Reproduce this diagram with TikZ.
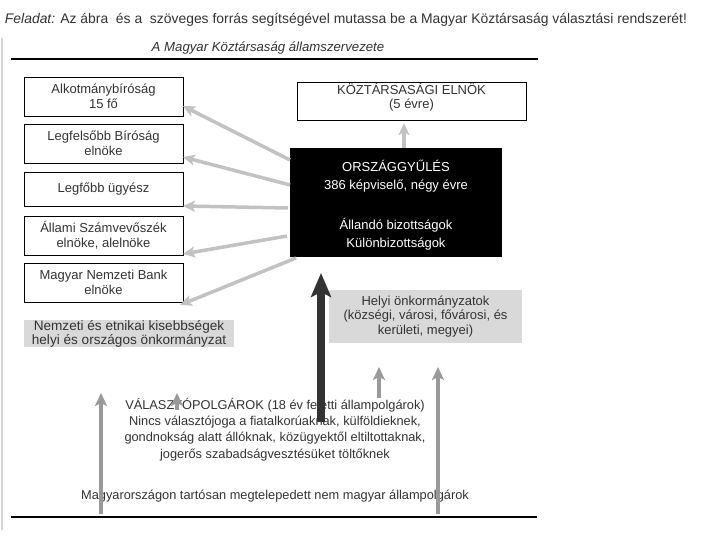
\documentclass[tikz,border=0pt]{standalone}
\usepackage{fontspec}
\setmainfont{Liberation Sans}
\usetikzlibrary{arrows.meta,calc}
\definecolor{txt}{HTML}{333333}
\definecolor{lgray}{HTML}{C2C2C2}
\definecolor{mgray}{HTML}{9A9A9A}
\definecolor{vlgray}{HTML}{D4D4D4}
\definecolor{boxgray}{HTML}{D9D9D9}
\definecolor{dark}{HTML}{333333}
\begin{document}
\begin{tikzpicture}[x=1pt,y=-1pt,
  every node/.style={inner sep=0pt, outer sep=0pt, text=txt, font=\fontsize{13}{15}\selectfont},
  wbox/.style={draw=black, line width=0.9pt, fill=white, minimum width=159pt, align=center},
  gbox/.style={fill=boxgray, align=center},
  larrow/.style={draw=lgray, line width=3.5pt, -{Stealth[length=12pt,width=11pt,inset=3pt]}},
  barrow/.style={draw=mgray, line width=4pt, -{Stealth[length=13pt,width=12pt,inset=3pt]}},
  darrow/.style={draw=dark, line width=8pt, -{Stealth[length=24pt,width=20pt,inset=5pt]}},
  rule/.style={draw=black, line width=2pt},
]
\useasboundingbox[fill=white] (0,0) rectangle (720,540);

% title and heading
\node[anchor=west, font=\fontsize{13.9}{15}\selectfont] (title) at (5,20) {\textit{Feladat:} Az ábra\ \ és a\ \ szöveges forrás segítségével mutassa be a Magyar Köztársaság választási rendszerét!};
\node[font=\itshape\fontsize{13.2}{15}\selectfont] (head) at (268,48) {A Magyar Köztársaság államszervezete};

% rules
\coordinate (vl1) at (2,38); \coordinate (vl2) at (2,530);
\draw[draw=vlgray, line width=2pt] (vl1) -- (vl2);
\coordinate (tl1) at (11,59); \coordinate (tl2) at (538,59);
\draw[rule] (tl1) -- (tl2);
\coordinate (bl1) at (11,517); \coordinate (bl2) at (537,517);
\draw[rule, line width=2.2pt] (bl1) -- (bl2);

% left boxes
\node[wbox, minimum height=39pt] (b1) at (103.5,96.5) {Alkotmánybíróság\\15 fő};
\node[wbox, minimum height=39pt] (b2) at (103.5,143.5) {Legfelsőbb Bíróság\\elnöke};
\node[wbox, minimum height=34pt] (b3) at (103.5,189) {Legfőbb ügyész};
\node[wbox, minimum height=39pt] (b4) at (103.5,235.5) {Állami Számvevőszék\\elnöke, alelnöke};
\node[wbox, minimum height=39pt] (b5) at (103.5,282.5) {Magyar Nemzeti Bank\\elnöke};
\node[gbox, minimum width=210pt, minimum height=27pt, font=\fontsize{13.6}{11.5}\selectfont] (nemz) at (129,333.5) {Nemzeti és etnikai kisebbségek\\helyi és országos önkormányzat};

% president
\node[wbox, minimum width=229pt, minimum height=31pt, font=\fontsize{13}{14}\selectfont] (pres) at (411.5,101.5) {KÖZTÁRSASÁGI ELNÖK\\(5 évre)\rule[-12pt]{0pt}{12pt}};

% parliament
\node[fill=black, minimum width=212pt, minimum height=109pt, text=white, align=center, font=\fontsize{13}{17.5}\selectfont] (ogy) at (396,202.5) {\rule{0pt}{17pt}ORSZÁGGYŰLÉS\\386 képviselő, négy évre\\[23pt]Állandó bizottságok\\Különbizottságok};

% local governments
\node[gbox, minimum width=193pt, minimum height=53pt, font=\fontsize{13}{14.5}\selectfont] (helyi) at (425.5,316.5) {Helyi önkormányzatok\\(községi, városi, fővárosi, és\\kerületi, megyei)};

% bottom texts
\node[align=center, font=\fontsize{12.8}{16.3}\selectfont] (vp) at (275,429.5) {VÁLASZTÓPOLGÁROK (18 év feletti állampolgárok)\\Nincs választójoga a fiatalkorúaknak, külföldieknek,\\gondnokság alatt állóknak, közügyektől eltiltottaknak,\\jogerős szabadságvesztésüket töltőknek};
\node[font=\fontsize{12.8}{15}\selectfont] (mnm) at (275,496) {Magyarországon tartósan megtelepedett nem magyar állampolgárok};

% arrows from parliament
\draw[larrow] ($(ogy.north west)+(0,12)$) -- ($(b1.south east)+(0,-10)$);
\draw[larrow] ($(ogy.north west)+(0,37)$) -- ($(b2.south east)+(0,-6)$);
\draw[larrow] ($(ogy.north west)+(-2,60)$) -- ($(b3.south east)+(0,0)$);
\draw[larrow] ($(ogy.north west)+(-3,88)$) -- ($(b4.south east)+(0,-1)$);
\draw[larrow] ($(ogy.south west)+(6,1)$) -- ($(b5.south east)+(-3,3)$);
\draw[larrow] ($(ogy.north)+(8,0)$) -- ($(pres.south)+(-7.5,3)$);

% arrows from the voters
\coordinate (t1) at (101,393);
\coordinate (t2) at (177,393);
\coordinate (s2) at (177,410);
\draw[barrow] ($(bl1)+(90,-3)$) -- (t1);
\draw[barrow] (s2) -- (t2);
\draw[barrow] ($(vp.north)+(104,0)$) -- ($(helyi.south)+(-46.5,24)$);
\draw[barrow] ($(bl1)+(427,-3)$) -- ($(helyi.south)+(12.5,24)$);
\draw[darrow] ($(vp.north)+(46,24)$) -- ($(ogy.south west)+(31,16)$);
\end{tikzpicture}
\end{document}
